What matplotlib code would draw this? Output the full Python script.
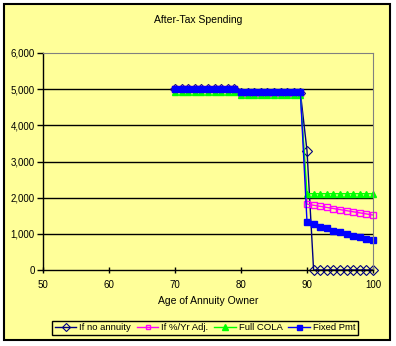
import matplotlib.pyplot as plt
import matplotlib.patches as patches
import numpy as np

# after-tax spending by age for each annuity option
ages = list(range(70, 101))
no_annuity = [5000]*10 + [4900]*10 + [3300] + [0]*10
pct_adj = [5000]*10 + [4900]*10 + [1820, 1790, 1760, 1730, 1700, 1670, 1640, 1610, 1580, 1550, 1520]
full_cola = [4930]*10 + [4840]*10 + [2110]*11
fixed_pmt = [5000]*10 + [4910]*10 + [1330, 1260, 1200, 1150, 1080, 1040, 985, 940, 900, 855, 820]

yticks = [0, 1000, 2000, 3000, 4000, 5000, 6000]
xticks = [50, 60, 70, 80, 90, 100]

bg = '#FFFF99'
W, H = 396, 346
fig = plt.figure(figsize=(W/100, H/100), dpi=100, facecolor='white')
plt.rcParams['font.family'] = ['Liberation Sans', 'DejaVu Sans']

# chart area frame
fig.patches.append(patches.Rectangle((4/W, 6/H), 386/W, 336/H, transform=fig.transFigure,
                                     facecolor=bg, edgecolor='black', linewidth=1.5, zorder=-10))

ax = fig.add_axes([43/W, (H-270)/H, 330/W, 217/H])
ax.set_zorder(1)
ax.set_facecolor(bg)

ax.plot(ages, no_annuity, color='#000080', lw=1, marker='D', ms=5, mfc='none', mec='#000080',
        mew=0.8, label='If no annuity', clip_on=False)
ax.plot(ages, pct_adj, color='#FF00FF', lw=1, marker='s', ms=4, mfc='none', mec='#FF00FF',
        mew=1, label='If %/Yr Adj.', clip_on=False)
ax.plot(ages, full_cola, color='#00FF00', lw=1, marker='^', ms=5, mfc='#00FF00', mec='#00FF00',
        label='Full COLA', clip_on=False)
ax.plot(ages, fixed_pmt, color='#0000FF', lw=1, marker='s', ms=4.5, mfc='#0000FF', mec='#0000FF',
        label='Fixed Pmt', clip_on=False)

ax.set_xlim(50, 100)
ax.set_ylim(0, 6000)
ax.set_xticks(xticks)
ax.set_yticks(yticks)
ax.set_yticklabels(['{:,}'.format(v) for v in yticks])
for y in yticks[1:-1]:
    ax.axhline(y, color='black', lw=1, zorder=0.5)
ax.tick_params(axis='both', labelsize=7, length=4, width=1, colors='black')
ax.tick_params(axis='x', direction='inout', pad=5)
ax.tick_params(axis='y', direction='out', pad=2)
ax.spines['top'].set_color('#808080')
ax.spines['right'].set_color('#808080')
for s in ['left', 'bottom']:
    ax.spines[s].set_linewidth(1)

fig.text(198/W, 1 - 20/H, 'After-Tax Spending', ha='center', va='center', fontsize=7.5)
fig.text(208/W, 1 - 301/H, 'Age of Annuity Owner', ha='center', va='center', fontsize=7.5)

leg = fig.legend(loc='center', bbox_to_anchor=(205/W, 1 - 328/H), ncol=4, fontsize=6.8,
                 frameon=True, fancybox=False, edgecolor='black', facecolor=bg, framealpha=1,
                 handlelength=2.3, handletextpad=0.3, columnspacing=0.6, borderpad=0.3,
                 markerscale=0.8)
leg.get_frame().set_linewidth(1)

fig.savefig('out.png', dpi=100, facecolor='white')
